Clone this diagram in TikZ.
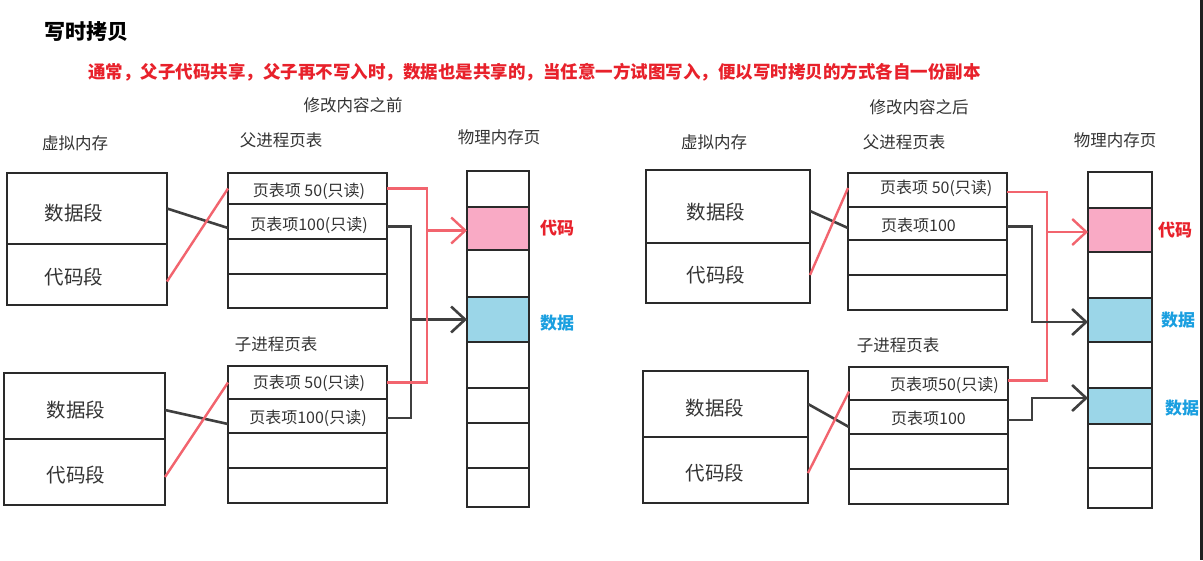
\documentclass[tikz,border=0pt]{standalone}
\usepackage{fontspec}
\setmainfont{Noto Sans CJK SC}
\usetikzlibrary{arrows.meta,calc}
\definecolor{ink}{HTML}{2A2A2A}
\definecolor{txt}{HTML}{333333}
\definecolor{redln}{HTML}{F2646E}
\definecolor{redtx}{HTML}{E8212B}
\definecolor{bluetx}{HTML}{1A9FE0}
\definecolor{pinkc}{HTML}{F9AAC5}
\definecolor{bluec}{HTML}{9BD6E8}
\begin{document}
\begin{tikzpicture}[x=1pt,y=-1pt,
  cell/.style={draw=ink,line width=2.4pt,inner sep=0pt,outer sep=0pt,anchor=north west,rectangle},
  lbl/.style={text=txt,font=\fontsize{16.5}{18}\selectfont,inner sep=0pt},
  seg/.style={text=txt,font=\fontsize{19.5}{22}\selectfont,inner sep=0pt},
  ent/.style={text=txt,font=\fontsize{16}{18}\selectfont,inner sep=0pt},
  memlbl/.style={font=\fontsize{17}{19}\selectfont\bfseries,inner sep=0pt},
  blk/.style={draw=ink!90,line width=2.6pt},
  rln/.style={draw=redln,line width=2.4pt},
  arr/.style={-{Straight Barb[length=14pt,width=26pt]}}
]
\useasboundingbox (0,0) rectangle (1203,560);
\fill[white] (0,0) rectangle (1203,560);
\fill[black!88] (1200,0) rectangle (1203,560);

% titles
\node[anchor=west,inner sep=0pt,font=\fontsize{21}{24}\selectfont\bfseries] (title) at (44,32) {写时拷贝};
\node[anchor=west,inner sep=0pt,text=redtx,font=\fontsize{17.5}{20}\selectfont\bfseries] (sub) at (88,72) {通常，父子代码共享，父子再不写入时，数据也是共享的，当任意一方试图写入，便以写时拷贝的方式各自一份副本};

% ===== left diagram =====
\node[lbl] (Lhead) at (353,105) {修改内容之前};
\node[lbl] (Lvm) at (75,143) {虚拟内存};
\node[lbl] (Lpt) at (281,140) {父进程页表};
\node[lbl] (Lpm) at (499,137) {物理内存页};
\node[lbl] (Lct) at (276,344) {子进程页表};

\node[cell,minimum width=160pt,minimum height=71pt] (LvDataA) at (7,173) {};
\node[cell,minimum width=160pt,minimum height=61pt] (LvCodeA) at (7,244) {};
\node[cell,minimum width=161pt,minimum height=66pt] (LvDataB) at (4,373) {};
\node[cell,minimum width=161pt,minimum height=66pt] (LvCodeB) at (4,439) {};
\node[seg] (LsDA) at (74,213) {数据段};
\node[seg] (LsCA) at (74,277) {代码段};
\node[seg] (LsDB) at (76,410) {数据段};
\node[seg] (LsCB) at (76,475) {代码段};

\foreach \n/\y/\h in {1/173/31,2/204/35,3/239/35,4/274/34}
  \node[cell,minimum width=159pt,minimum height=\h pt] (LpA\n) at (228,\y) {};
\foreach \n/\y/\h in {1/366/33,2/399/34,3/433/35,4/468/35}
  \node[cell,minimum width=159pt,minimum height=\h pt] (LcA\n) at (228,\y) {};
\node[ent] (LtA1) at (309,191) {页表项 50(只读)};
\node[ent] (LtA2) at (309,225) {页表项100(只读)};
\node[ent] (LtB1) at (309,383) {页表项 50(只读)};
\node[ent] (LtB2) at (308,418) {页表项100(只读)};

\foreach \n/\y/\h/\c in {1/171/36/white,2/207/43/pinkc,3/250/47/white,4/297/45/bluec,5/342/46/white,6/388/35/white,7/423/45/white,8/468/39/white}
  \node[cell,fill=\c,minimum width=62pt,minimum height=\h pt] (LmA\n) at (467,\y) {};
\node[memlbl,text=redtx] (LlCode) at (557,228) {代码};
\node[memlbl,text=bluetx] (LlData) at (557,323) {数据};

\draw[blk] (LvDataA.east) -- ([yshift=-6.5pt]LpA2.west);
\draw[rln] ([yshift=-7pt]LvCodeA.east) -- (LpA1.west);
\draw[blk] ([yshift=-4pt]LvDataB.east) -- ([yshift=-8pt]LcA2.west);
\draw[rln] ([yshift=-5pt]LvCodeB.east) -- (LcA1.west);

\coordinate (LrX) at (427,0);
\coordinate (LbX) at (411,0);
\draw[blk] ([yshift=-5pt]LpA2.east) -- ([yshift=-5pt]LpA2.east -| LbX) |- ([yshift=-2pt]LcA2.east);
\draw[blk,arr] (LmA4.west -| LbX) -- (LmA4.west);
\draw[rln] (LpA1.east) -- (LpA1.east -| LrX) |- (LcA1.east);
\draw[rln,arr] ([yshift=-2pt]LmA2.west -| LrX) -- ([yshift=-2pt]LmA2.west);

% ===== right diagram =====
\node[lbl] (Rhead) at (919,107) {修改内容之后};
\node[lbl] (Rvm) at (714,142) {虚拟内存};
\node[lbl] (Rpt) at (904,142) {父进程页表};
\node[lbl] (Rpm) at (1115,140) {物理内存页};
\node[lbl] (Rct) at (898,345) {子进程页表};

\node[cell,minimum width=164pt,minimum height=73pt] (RvDataA) at (646,170) {};
\node[cell,minimum width=164pt,minimum height=60pt] (RvCodeA) at (646,243) {};
\node[cell,minimum width=165pt,minimum height=66pt] (RvDataB) at (643,371) {};
\node[cell,minimum width=165pt,minimum height=66pt] (RvCodeB) at (643,437) {};
\node[seg] (RsDA) at (716,212) {数据段};
\node[seg] (RsCA) at (716,275) {代码段};
\node[seg] (RsDB) at (715,408) {数据段};
\node[seg] (RsCB) at (715,473) {代码段};

\foreach \n/\y/\h in {1/173/34,2/207/33,3/240/35,4/275/35}
  \node[cell,minimum width=159pt,minimum height=\h pt] (RpA\n) at (848,\y) {};
\foreach \n/\y/\h in {1/367/33,2/400/34,3/434/35,4/469/35}
  \node[cell,minimum width=159pt,minimum height=\h pt] (RcA\n) at (849,\y) {};
\node[ent,anchor=west] (RtA1) at (880,188) {页表项 50(只读)};
\node[ent,anchor=west] (RtA2) at (881,225) {页表项100};
\node[ent,anchor=west] (RtB1) at (890,385) {页表项50(只读)};
\node[ent,anchor=west] (RtB2) at (891,418) {页表项100};

\foreach \n/\y/\h/\c in {1/172/36/white,2/208/44/pinkc,3/252/46/white,4/298/44/bluec,5/342/46/white,6/388/36/bluec,7/424/44/white,8/468/40/white}
  \node[cell,fill=\c,minimum width=64pt,minimum height=\h pt] (RmA\n) at (1088,\y) {};
\node[memlbl,text=redtx] (RlCode) at (1175,230) {代码};
\node[memlbl,text=bluetx] (RlData) at (1178,320) {数据};
\node[memlbl,text=bluetx] (RlData2) at (1182,408) {数据};

\draw[blk] ([yshift=-4.5pt]RvDataA.east) -- ([yshift=-4.5pt]RpA2.west);
\draw[rln] ([yshift=-2pt]RvCodeA.east) -- ([yshift=2pt]RpA1.west);
\draw[blk] (RvDataB.east) -- ([yshift=-10pt]RcA2.west);
\draw[rln] ([yshift=-3pt]RvCodeB.east) -- ([yshift=-8pt]RcA1.west);

\coordinate (RrX) at (1047,0);
\coordinate (RbX) at (1032,0);
\draw[rln] ([yshift=-2pt]RpA1.east) -- ([yshift=-2pt]RpA1.east -| RrX) |- ([yshift=3pt]RcA1.east);
\draw[rln,arr] ([yshift=-2pt]RmA2.west -| RrX) -- ([yshift=-2pt]RmA2.west);
\draw[blk,arr] ([yshift=-3pt]RpA2.east) -- ([yshift=-3pt]RpA2.east -| RbX) |- ([yshift=-2pt]RmA4.west);
\draw[blk,arr] ([yshift=-3pt]RcA2.east) -- ([yshift=-3pt]RcA2.east -| RbX) |- ([yshift=8pt]RmA6.west);
\end{tikzpicture}
\end{document}
